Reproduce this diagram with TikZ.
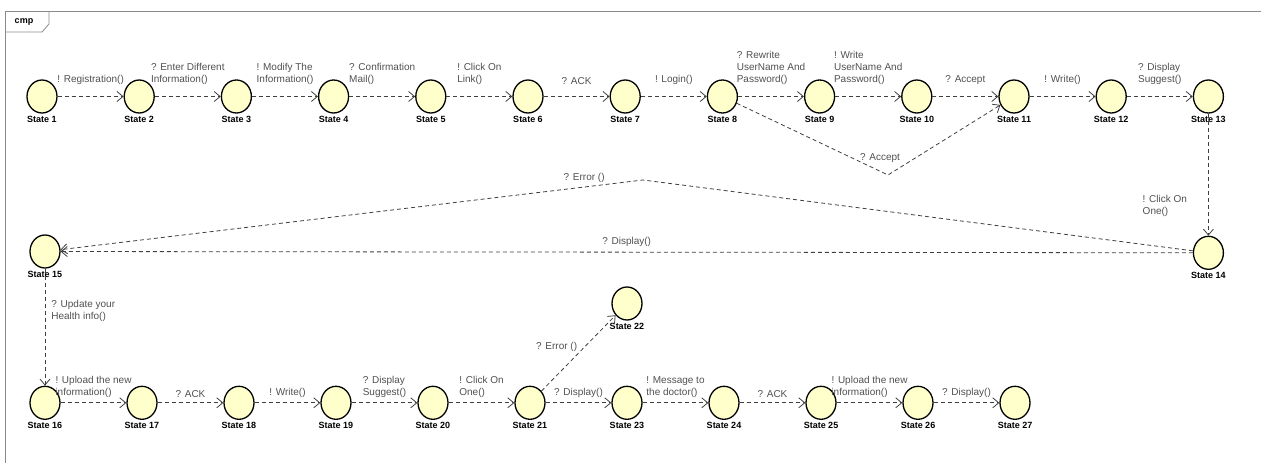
\documentclass[tikz,border=0pt]{standalone}
\usepackage{fontspec}
\setmainfont{Liberation Sans}
\usetikzlibrary{positioning, arrows.meta, shapes.geometric}
\definecolor{stfill}{HTML}{FFFFCC}
\definecolor{msggray}{HTML}{505050}
\definecolor{framegray}{HTML}{8A8A8A}

\tikzset{
	statenode/.style = {ellipse, draw, line width=1.3pt, fill=stfill, minimum width=30pt, minimum height=33pt, inner sep=0pt,
		label={[font=\bfseries\fontsize{9}{10}\selectfont, inner sep=1pt, label distance=1pt]below:#1}},
	trans/.style = {->, draw=black!75, line width=0.8pt, dash pattern=on 4pt off 3pt},
	msg/.style = {font=\fontsize{10}{12}\selectfont, text=msggray, align=left, inner sep=1pt},
	toprow/.style = {msg, midway, above=11pt},
	botrow/.style = {msg, midway, above=4pt},
}

\begin{document}
\begin{tikzpicture}[x=1pt, y=-1pt, node distance=65.9pt, >={Straight Barb[length=6pt, width=10pt]}]
		\useasboundingbox (0,0) rectangle (1261,463);
		% frame and tab
		\draw[framegray, line width=0.8pt] (1261,11) -- (5,11) -- (5,463);
		\draw[framegray, line width=0.8pt] (5,32) -- (42,32) -- (49,24) -- (49,11);
		\node[font=\bfseries\fontsize{9}{10}\selectfont] (cmp) at (24,22) {cmp};

		% top row
		\node[statenode=State 1] (s1) at (42,96.5) {};
		\node[statenode=State 2, right = of s1] (s2) {};
		\node[statenode=State 3, right = of s2] (s3) {};
		\node[statenode=State 4, right = of s3] (s4) {};
		\node[statenode=State 5, right = of s4] (s5) {};
		\node[statenode=State 6, right = of s5] (s6) {};
		\node[statenode=State 7, right = of s6] (s7) {};
		\node[statenode=State 8, right = of s7] (s8) {};
		\node[statenode=State 9, right = of s8] (s9) {};
		\node[statenode=State 10, right = of s9] (s10) {};
		\node[statenode=State 11, right = of s10] (s11) {};
		\node[statenode=State 12, right = of s11] (s12) {};
		\node[statenode=State 13, right = of s12] (s13) {};

		% middle
		\node[statenode=State 14, below = 122pt of s13] (s14) {};
		\node[statenode=State 15] (s15) at (45,251.5) {};

		% bottom row
		\node[statenode=State 16, below = 117pt of s15] (s16) {};
		\node[statenode=State 17, right = 65.7pt of s16] (s17) {};
		\node[statenode=State 18, right = 65.7pt of s17] (s18) {};
		\node[statenode=State 19, right = 65.7pt of s18] (s19) {};
		\node[statenode=State 20, right = 65.7pt of s19] (s20) {};
		\node[statenode=State 21, right = 65.7pt of s20] (s21) {};
		\node[statenode=State 23, right = 65.7pt of s21] (s23) {};
		\node[statenode=State 22, above = 65pt of s23] (s22) {};
		\node[statenode=State 24, right = 65.7pt of s23] (s24) {};
		\node[statenode=State 25, right = 65.7pt of s24] (s25) {};
		\node[statenode=State 26, right = 65.7pt of s25] (s26) {};
		\node[statenode=State 27, right = 65.7pt of s26] (s27) {};

		\coordinate (accbend) at (888,175);
		\coordinate (errbend) at (643,180);

		\draw[trans] (s1) -- node[toprow] {! Registration()} (s2);
		\draw[trans] (s2) -- node[toprow] {? Enter Different\\Information()} (s3);
		\draw[trans] (s3) -- node[toprow] {! Modify The\\Information()} (s4);
		\draw[trans] (s4) -- node[toprow] {? Confirmation\\Mail()} (s5);
		\draw[trans] (s5) -- node[toprow] {! Click On\\Link()} (s6);
		\draw[trans] (s6) -- node[toprow] {? ACK} (s7);
		\draw[trans] (s7) -- node[toprow] {! Login()} (s8);
		\draw[trans] (s8) -- node[toprow] {? Rewrite\\UserName And\\Password()} (s9);
		\draw[trans] (s9) -- node[toprow] {! Write\\UserName And\\Password()} (s10);
		\draw[trans] (s10) -- node[toprow] {? Accept} (s11);
		\draw[trans] (s11) -- node[toprow] {! Write()} (s12);
		\draw[trans] (s12) -- node[toprow] {? Display\\Suggest()} (s13);
		\draw[trans] (s8) -- (accbend) node[msg, above=11pt, xshift=-8pt] {? Accept} -- (s11);

		\draw[trans] (s13) -- node[msg, pos=0.76, left=20pt] {! Click On\\One()} (s14);
		\draw[trans] (s14) -- node[msg, midway, above=4pt] {? Display()} (s15);
		\draw[trans] (s14) -- (errbend) node[msg, anchor=south east, xshift=-37pt, yshift=-4pt] {? Error ()} -- (s15);
		\draw[trans] (s15) -- node[msg, pos=0.36, right=5pt] {? Update your\\Health info()} (s16);

		\draw[trans] (s16) -- node[botrow] {! Upload the new\\information()} (s17);
		\draw[trans] (s17) -- node[botrow] {? ACK} (s18);
		\draw[trans] (s18) -- node[botrow] {! Write()} (s19);
		\draw[trans] (s19) -- node[botrow] {? Display\\Suggest()} (s20);
		\draw[trans] (s20) -- node[botrow] {! Click On\\One()} (s21);
		\draw[trans] (s21) -- node[botrow] {? Display()} (s23);
		\draw[trans] (s21) -- node[msg, midway, anchor=south east] {? Error ()} (s22);
		\draw[trans] (s23) -- node[botrow] {! Message to\\the doctor()} (s24);
		\draw[trans] (s24) -- node[botrow] {? ACK} (s25);
		\draw[trans] (s25) -- node[botrow] {! Upload the new\\information()} (s26);
		\draw[trans] (s26) -- node[botrow] {? Display()} (s27);
	\end{tikzpicture}
\end{document}
